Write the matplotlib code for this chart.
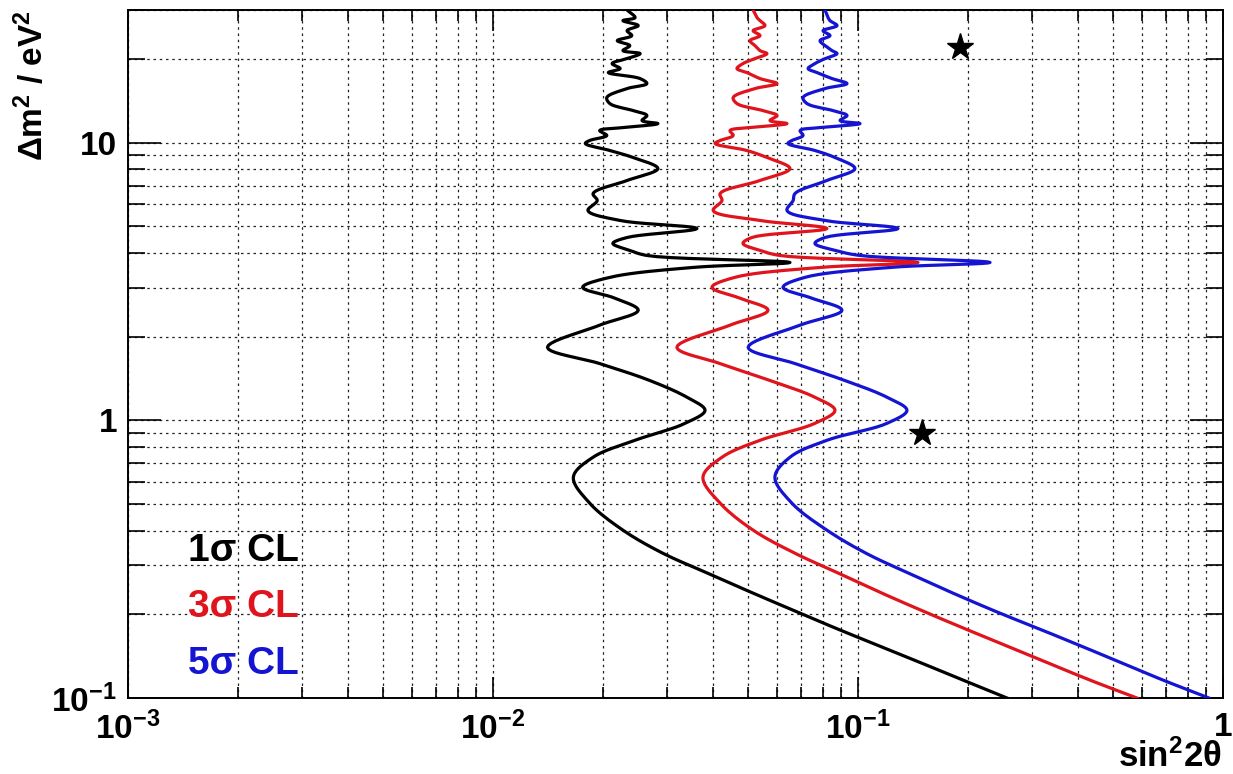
import matplotlib
matplotlib.use("Agg")
import matplotlib.pyplot as plt
from matplotlib.ticker import LogLocator, NullFormatter, FixedLocator, FixedFormatter
import numpy as np

# ---- data ----
dm2 = [30, 28.16, 27.47, 26.36, 25.28, 24.26, 23.27, 22.33, 21.42, 20.90,
       20.05, 19.24, 18.46, 17.86, 16.99, 16.30, 15.64, 14.52, 13.81, 13.03,
       12.51, 12.00, 11.70, 11.32, 11.04, 10.60, 10.17, 9.92, 9.36, 8.83,
       8.06, 7.30, 6.55, 6.18, 5.69, 5.24, 4.90, 4.55, 4.33, 4.09,
       3.92, 3.70, 3.55, 3.27, 3.01, 2.75, 2.49, 2.20, 1.83, 1.60,
       1.39, 1.21, 1.086, 0.975, 0.847, 0.736, 0.624, 0.503, 0.402, 0.332,
       0.282, 0.2385, 0.202, 0.1757, 0.1452, 0.116, 0.1]

sin2_1sigma = [0.0233, 0.0245, 0.0227, 0.0250, 0.0233, 0.0240, 0.0219, 0.0237, 0.0227, 0.0253,
               0.0233, 0.0212, 0.0223, 0.0207, 0.0253, 0.0264, 0.0233, 0.0205, 0.0209, 0.0242,
               0.0264, 0.0256, 0.0283, 0.0227, 0.0196, 0.0205, 0.0184, 0.0179, 0.0209, 0.0242,
               0.0283, 0.0233, 0.0188, 0.0193, 0.0182, 0.0223, 0.0362, 0.0233, 0.0213, 0.0237,
               0.0264, 0.0651, 0.0353, 0.0209, 0.0176, 0.0216, 0.0250, 0.0196, 0.0141, 0.0196,
               0.0269, 0.0340, 0.0381, 0.0336, 0.0245, 0.0188, 0.0166, 0.0184, 0.0227, 0.0292,
               0.0386, 0.0516, 0.0694, 0.0893, 0.1279, 0.1939, 0.256]

sin2_3sigma = [0.0516, 0.0529, 0.0539, 0.0556, 0.0516, 0.0539, 0.0506, 0.0522, 0.0539, 0.0563,
               0.0522, 0.0484, 0.0466, 0.0496, 0.0539, 0.0600, 0.0522, 0.0455, 0.0466, 0.0549,
               0.0600, 0.0574, 0.0639, 0.0506, 0.0446, 0.0455, 0.0419, 0.0406, 0.0496, 0.0563,
               0.0651, 0.0539, 0.0419, 0.0424, 0.0401, 0.0539, 0.0822, 0.0512, 0.0484, 0.0539,
               0.0611, 0.146, 0.0787, 0.0460, 0.0398, 0.0475, 0.0567, 0.0446, 0.0319, 0.0419,
               0.0574, 0.0762, 0.0865, 0.0762, 0.0539, 0.0424, 0.0376, 0.0419, 0.0516, 0.0672,
               0.0881, 0.1163, 0.1555, 0.2002, 0.2850, 0.4321, 0.581]

sin2_5sigma = [0.0812, 0.0828, 0.0838, 0.0876, 0.0802, 0.0838, 0.0787, 0.0812, 0.0849, 0.0876,
               0.0812, 0.0762, 0.0730, 0.0772, 0.0849, 0.0933, 0.0812, 0.0707, 0.0725, 0.0854,
               0.0933, 0.0893, 0.1013, 0.0787, 0.0694, 0.0707, 0.0659, 0.0643, 0.0762, 0.0865,
               0.0981, 0.0822, 0.0672, 0.0664, 0.0639, 0.0812, 0.1287, 0.0812, 0.0762, 0.0865,
               0.1013, 0.230, 0.1224, 0.0716, 0.0623, 0.0748, 0.0904, 0.0694, 0.0500, 0.0672,
               0.0921, 0.1201, 0.1362, 0.1201, 0.0822, 0.0651, 0.0592, 0.0659, 0.0822, 0.1052,
               0.1371, 0.1821, 0.2449, 0.3192, 0.4545, 0.6850, 0.915]

star_x = [0.19, 0.15]
star_y = [22.0, 0.90]

labels = ["1σ CL", "3σ CL", "5σ CL"]
colors = ["#000000", "#e0141c", "#1414d2"]

x_ticks = [1e-3, 1e-2, 1e-1, 1]
x_ticklabels = [r"$10^{-3}$", r"$10^{-2}$", r"$10^{-1}$", "1"]
y_ticks = [0.1, 1, 10]
y_ticklabels = [r"$10^{-1}$", "1", "10"]


def smooth_path(xs, ys, n=10, alpha=0.5):
    """Centripetal Catmull-Rom drawing path through the given points (log space)."""
    P = np.column_stack([np.log10(xs) * 1.31, np.log10(ys)])
    P = np.vstack([2 * P[0] - P[1], P, 2 * P[-1] - P[-2]])
    out = []
    for i in range(1, len(P) - 2):
        p0, p1, p2, p3 = P[i - 1], P[i], P[i + 1], P[i + 2]
        t0 = 0.0
        t1 = t0 + max(np.linalg.norm(p1 - p0), 1e-9) ** alpha
        t2 = t1 + max(np.linalg.norm(p2 - p1), 1e-9) ** alpha
        t3 = t2 + max(np.linalg.norm(p3 - p2), 1e-9) ** alpha
        t = np.linspace(t1, t2, n, endpoint=False)[:, None]
        A1 = (t1 - t) / (t1 - t0) * p0 + (t - t0) / (t1 - t0) * p1
        A2 = (t2 - t) / (t2 - t1) * p1 + (t - t1) / (t2 - t1) * p2
        A3 = (t3 - t) / (t3 - t2) * p2 + (t - t2) / (t3 - t2) * p3
        B1 = (t2 - t) / (t2 - t0) * A1 + (t - t0) / (t2 - t0) * A2
        B2 = (t3 - t) / (t3 - t1) * A2 + (t - t1) / (t3 - t1) * A3
        C = (t2 - t) / (t2 - t1) * B1 + (t - t1) / (t2 - t1) * B2
        out.append(C)
    out.append(P[-2][None, :])
    Q = np.vstack(out)
    return 10 ** (Q[:, 0] / 1.31), 10 ** Q[:, 1]


# ---- style ----
plt.rcParams["font.family"] = ["Liberation Sans", "DejaVu Sans"]
plt.rcParams["font.weight"] = "bold"
plt.rcParams["mathtext.fontset"] = "custom"
plt.rcParams["mathtext.rm"] = "Liberation Sans:bold"
plt.rcParams["mathtext.bf"] = "Liberation Sans:bold"
plt.rcParams["mathtext.it"] = "Liberation Sans:bold"
plt.rcParams["mathtext.default"] = "rm"

fig = plt.figure(figsize=(12.33, 7.74), dpi=100)
ax = fig.add_axes([128/1233, 76/774, 1095/1233, 688/774])

ax.set_xscale("log")
ax.set_yscale("log")
ax.set_xlim(1e-3, 1)
ax.set_ylim(0.1, 30)

for xs, c in zip([sin2_1sigma, sin2_3sigma, sin2_5sigma], colors):
    sx, sy = smooth_path(xs, dm2)
    ax.plot(sx, sy, color=c, lw=2.3, solid_joinstyle="round", zorder=3)

ax.plot(star_x, star_y, linestyle="none", marker="*", color="black", markersize=20, zorder=4)

# grid at major and minor ticks
ax.xaxis.set_major_locator(FixedLocator(x_ticks))
ax.xaxis.set_major_formatter(FixedFormatter(x_ticklabels))
ax.xaxis.set_minor_locator(LogLocator(base=10, subs=np.arange(2, 10)))
ax.xaxis.set_minor_formatter(NullFormatter())
ax.yaxis.set_major_locator(FixedLocator(y_ticks))
ax.yaxis.set_major_formatter(FixedFormatter(y_ticklabels))
ax.yaxis.set_minor_locator(LogLocator(base=10, subs=np.arange(2, 10)))
ax.yaxis.set_minor_formatter(NullFormatter())

ax.grid(True, which="both", color="#222222", linestyle=(0, (2.0, 3.0)), linewidth=0.9, zorder=1)

ax.tick_params(axis="x", which="major", direction="in", length=15, width=1.2, top=True, labelsize=24, pad=10)
ax.tick_params(axis="x", which="minor", direction="in", length=8, width=1.2, top=True)
ax.tick_params(axis="y", which="major", direction="in", length=24, width=1.2, right=True, labelsize=24, pad=8)
ax.tick_params(axis="y", which="minor", direction="in", length=12, width=1.2, right=True)
for s in ax.spines.values():
    s.set_linewidth(1.4)

for lab in ax.get_xticklabels() + ax.get_yticklabels():
    lab.set_fontweight("bold")

# legend-like labels
for lab, c, yy in zip(labels, colors, [0.2137, 0.132, 0.049]):
    ax.text(0.0548, yy, lab, color=c, transform=ax.transAxes, ha="left", va="center",
            fontsize=28, fontweight="bold", zorder=5)

fig.text(1222/1233, 1 - 767/774, r"sin$^{2}$2θ", ha="right", va="baseline", fontsize=25, fontweight="bold")
fig.text(32/1233, 1 - 10/774, r"Δm$^{2}$ / eV$^{2}$", rotation=90, ha="center", va="top",
         fontsize=24, fontweight="bold")

fig.savefig("out.png", dpi=100)
